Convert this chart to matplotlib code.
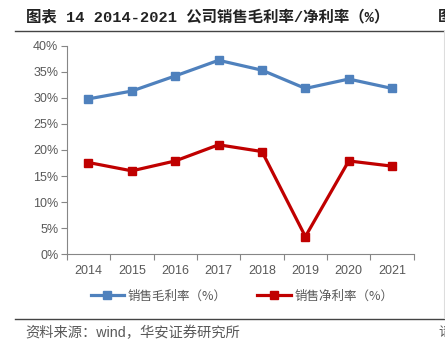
import matplotlib
matplotlib.use("Agg")
import matplotlib.pyplot as plt
from matplotlib.lines import Line2D
from matplotlib.ticker import FuncFormatter, FixedLocator, NullFormatter

plt.rcParams['font.family'] = ['Liberation Sans', 'Noto Sans CJK SC', 'DejaVu Sans']

years = ["2014", "2015", "2016", "2017", "2018", "2019", "2020", "2021"]
gross = [29.8, 31.3, 34.2, 37.2, 35.3, 31.8, 33.6, 31.8]
net = [17.6, 16.0, 17.9, 21.0, 19.7, 3.4, 17.9, 16.9]
labels = ["销售毛利率（%）", "销售净利率（%）"]

BLUE = "#4F81BD"; RED = "#C00000"; GRAY = "#595959"; AX = "#868686"

fig = plt.figure(figsize=(4.45, 3.46), dpi=100)
ax = fig.add_axes([0.150, 0.265, 0.780, 0.603])
x = list(range(len(years)))
ax.plot(x, gross, color=BLUE, lw=2.3, marker="s", ms=6, label=labels[0])
ax.plot(x, net, color=RED, lw=2.3, marker="s", ms=6, label=labels[1])

ax.set_xlim(-0.5, len(years) - 0.5)
ax.set_ylim(0, 40)
ax.set_yticks(range(0, 41, 5))
ax.yaxis.set_major_formatter(FuncFormatter(lambda v, p: "%d%%" % v))
ax.set_xticks(x)
ax.set_xticklabels(years)
ax.xaxis.set_minor_locator(FixedLocator([i - 0.5 for i in range(len(years) + 1)]))
ax.xaxis.set_minor_formatter(NullFormatter())
ax.tick_params(axis="x", which="major", length=0, labelsize=9, labelcolor=GRAY, pad=8)
ax.tick_params(axis="x", which="minor", length=4, color=AX, width=0.8)
ax.tick_params(axis="y", length=4, color=AX, width=0.8, labelsize=9, labelcolor=GRAY, pad=2)
for s in ["top", "right"]:
    ax.spines[s].set_visible(False)
for s in ["left", "bottom"]:
    ax.spines[s].set_color(AX); ax.spines[s].set_linewidth(0.8)

leg = ax.legend(loc="upper center", bbox_to_anchor=(0.505, -0.115), ncol=2, frameon=False,
                prop={'family': ['Noto Sans CJK SC'], 'size': 9, 'weight': 'light'},
                labelcolor=GRAY, handlelength=2.7, handletextpad=0.3, columnspacing=2.4)

fig.text(0.059, 0.951, "图表 14 2014-2021 公司销售毛利率/净利率（%）", fontsize=11.1,
         fontweight="bold", color="#222222", va="center",
         family=['Liberation Mono', 'Noto Sans CJK SC'])
fig.text(0.983, 0.951, "图", fontsize=11, fontweight="bold", color="#222222", va="center")
fig.add_artist(Line2D([0.034, 1.0], [0.910, 0.910], color="#444444", lw=1.0))
fig.add_artist(Line2D([0.034, 1.0], [0.078, 0.078], color="#444444", lw=1.0))
fig.add_artist(Line2D([0.998, 0.998], [0.08, 0.91], color="#dddddd", lw=0.8))
fig.text(0.056, 0.038, "资料来源：wind，华安证券研究所", fontsize=10.3, color=GRAY, va="center",
         family=['Liberation Sans', 'Noto Sans CJK SC'], fontweight='light')
fig.text(0.985, 0.038, "请", fontsize=9.5, color=GRAY, va="center")

fig.savefig("out.png", dpi=100)
